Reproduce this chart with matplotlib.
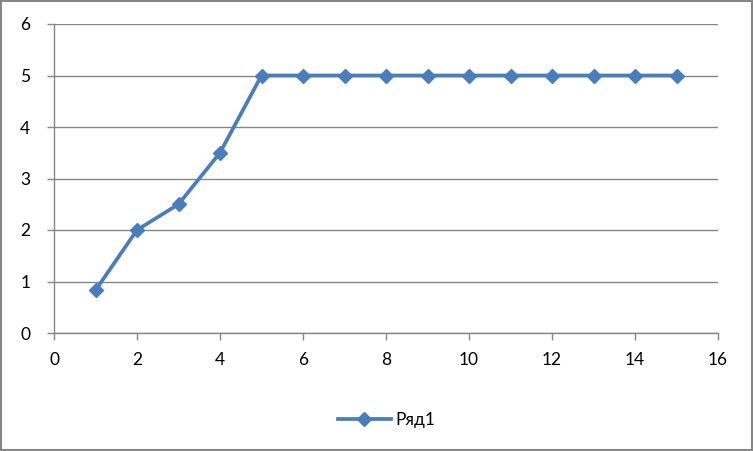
import matplotlib
matplotlib.use("Agg")
import matplotlib.pyplot as plt
from matplotlib.patches import Rectangle

x = [1, 2, 3, 4, 5, 6, 7, 8, 9, 10, 11, 12, 13, 14, 15]
y = [0.83, 2, 2.5, 3.5, 5, 5, 5, 5, 5, 5, 5, 5, 5, 5, 5]
series_name = "Ряд1"
xticks = [0, 2, 4, 6, 8, 10, 12, 14, 16]
yticks = [0, 1, 2, 3, 4, 5, 6]

plt.rcParams['font.family'] = ['Lato', 'DejaVu Sans']

fig = plt.figure(figsize=(7.53, 4.51), dpi=100)
ax = fig.add_axes([54/753, 1-333/451, (718-54)/753, (333-24)/451])

color = '#4A7EBB'
grid_c = '#868686'
ax.plot(x, y, color=color, lw=2.7, marker='D', ms=7.5, label=series_name, zorder=3)

ax.set_xlim(0, 16)
ax.set_ylim(0, 6)
ax.set_xticks(xticks)
ax.set_yticks(yticks)
ax.yaxis.grid(True, color=grid_c, lw=1)
ax.set_axisbelow(True)
for s in ['top', 'right']:
    ax.spines[s].set_visible(False)
for s in ['left', 'bottom']:
    ax.spines[s].set_color(grid_c)
    ax.spines[s].set_linewidth(1)
ax.tick_params(axis='both', colors=grid_c, labelcolor='black', labelsize=12.5, length=5, width=1, direction='out')
ax.tick_params(axis='x', pad=9)
ax.tick_params(axis='y', pad=12)

leg = fig.legend(loc='center', bbox_to_anchor=(387/753, 1-420/451), frameon=False, fontsize=12.5,
                 handlelength=3, handletextpad=0.3)

fig.patches.append(Rectangle((0.0015, 0.002), 0.997, 0.996, transform=fig.transFigure,
                             fill=False, edgecolor='#868686', lw=1.5))

fig.savefig('out.png', dpi=100)
